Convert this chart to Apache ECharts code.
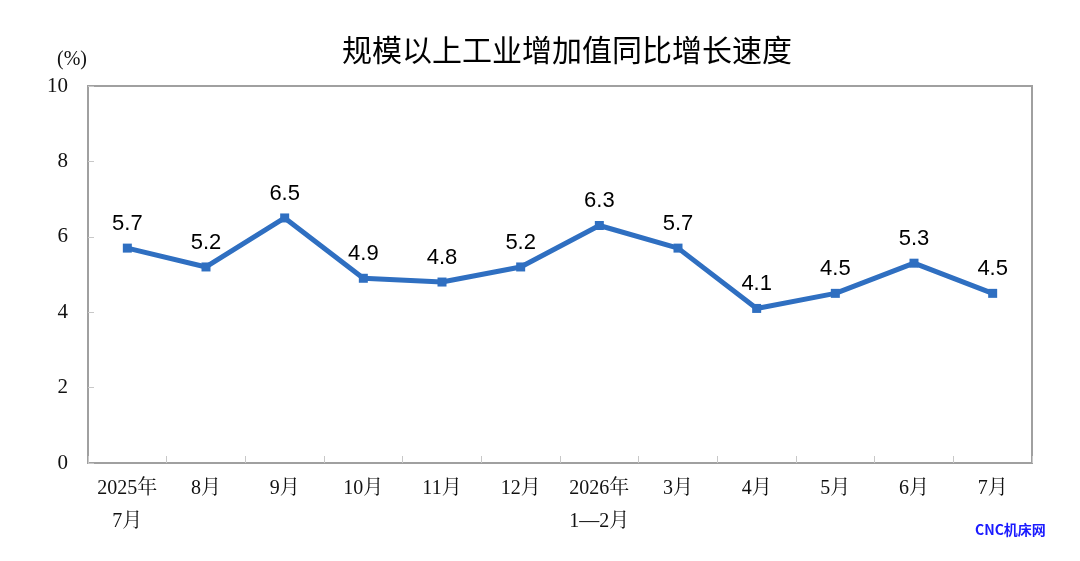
<!DOCTYPE html>
<html>
<head>
<meta charset="utf-8">
<script src="https://cdn.jsdelivr.net/npm/echarts@6/dist/echarts.min.js"></script>
<style>
  html, body { margin: 0; padding: 0; background: #fff; }
  #chart { width: 1080px; height: 561px; }
</style>
</head>
<body>
<div id="chart"></div>
<script>
// 月份与增速数据
const months = ['2025年\n7月', '8月', '9月', '10月', '11月', '12月', '2026年\n1—2月', '3月', '4月', '5月', '6月', '7月'];
const growth = [5.7, 5.2, 6.5, 4.9, 4.8, 5.2, 6.3, 5.7, 4.1, 4.5, 5.3, 4.5];
const yTicks = [0, 2, 4, 6, 8, 10];

const serif = '"Liberation Serif", "Noto Serif CJK SC", "Noto Sans CJK SC", serif';
const chart = echarts.init(document.getElementById('chart'));

chart.setOption({
    animation: false,
    title: {
        text: '规模以上工业增加值同比增长速度',
        left: 562, top: 30, textAlign: 'center',
        textStyle: { fontFamily: '"Noto Sans CJK SC"', fontSize: 30, fontWeight: 'normal', color: '#000' }
    },
    grid: {
        left: 88, right: 48, top: 86, bottom: 98,
        show: true, borderColor: '#a0a0a0', borderWidth: 2, backgroundColor: 'transparent'
    },
    xAxis: {
        type: 'category',
        data: months,
        boundaryGap: true,
        axisLine: { lineStyle: { color: '#a0a0a0', width: 2 } },
        axisTick: { show: true, inside: true, length: 7, alignWithLabel: false, lineStyle: { color: '#c8c8c8' } },
        axisLabel: { interval: 0, margin: 9, fontFamily: serif, fontSize: 20, color: '#111', lineHeight: 33 }
    },
    yAxis: {
        type: 'value',
        min: 0, max: 10, interval: 2,
        name: '(%)',
        nameLocation: 'end',
        nameGap: 16,
        nameTextStyle: { fontFamily: serif, fontSize: 20, color: '#111', align: 'right', padding: [0, 1, 0, 0] },
        axisLine: { show: true, lineStyle: { color: '#a0a0a0', width: 2 } },
        axisTick: { show: true, inside: true, length: 6, lineStyle: { color: '#c8c8c8' } },
        splitLine: { show: false },
        axisLabel: {
            margin: 20, fontFamily: serif, fontSize: 21, color: '#111',
            padding: [8, 0, 0, 0],
            formatter: v => yTicks.includes(v) ? String(v) : ''
        }
    },
    series: [{
        type: 'line',
        data: growth,
        symbol: 'rect',
        symbolSize: 9,
        lineStyle: { color: '#2f6fc1', width: 5 },
        itemStyle: { color: '#2f6fc1' },
        label: {
            show: true, position: 'top', distance: 9,
            fontFamily: '"Liberation Sans", Arial, sans-serif', fontSize: 22, color: '#000',
            formatter: p => p.value.toFixed(1)
        }
    }],
    graphic: [{
        type: 'text',
        left: 975, top: 523,
        style: { text: 'CNC机床网', fill: '#1a1aff', font: 'bold 14px "Noto Sans CJK SC", sans-serif' }
    }]
});
</script>
</body>
</html>
